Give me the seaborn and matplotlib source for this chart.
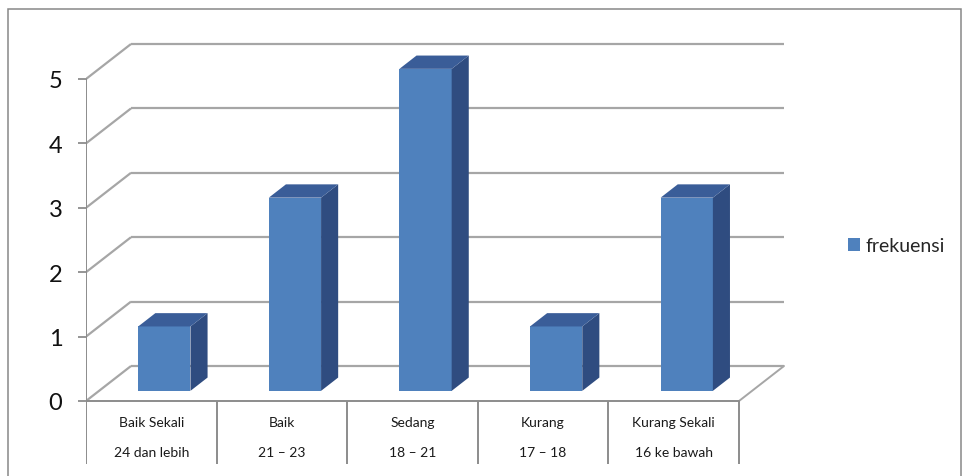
import matplotlib
matplotlib.use("Agg")
import matplotlib.pyplot as plt
from matplotlib.patches import Polygon, Rectangle, Patch
import seaborn as sns
import pandas as pd

# data
categories = ["Baik Sekali", "Baik", "Sedang", "Kurang", "Kurang Sekali"]
ranges = ["24 dan lebih", "21 \u2013 23", "18 \u2013 21", "17 \u2013 18", "16 ke bawah"]
frekuensi = [1, 3, 5, 1, 3]
y_ticks = [0, 1, 2, 3, 4, 5]

FRONT = "#4F81BD"
SIDE = "#2F4C80"
TOP = "#3A5D98"
GRID = "#A6A6A6"
AXIS = "#8C8C8C"

sns.set_theme(style="white")
plt.rcParams["font.family"] = ["Lato", "DejaVu Sans"]

W_PX, H_PX = 963, 477
fig = plt.figure(figsize=(W_PX / 100, H_PX / 100), dpi=100)

# axes placement in pixels (front plane: x0=86, value 0 at y=402)
cat_px, val_px = 130.6, 64.4
left_px, right_px, top_px, bot_px = 86, 820, 30, 470
ax = fig.add_axes([left_px / W_PX, (H_PX - bot_px) / H_PX,
                   (right_px - left_px) / W_PX, (bot_px - top_px) / H_PX])
ax.set_xlim(-0.5, -0.5 + (right_px - left_px) / cat_px)
ax.set_ylim(-(bot_px - 402) / val_px, (402 - top_px) / val_px)

# oblique depth offsets (data units for full depth)
DX = 45 / cat_px
DY = 35 / val_px
n = len(categories)

# walls and floor
for v in y_ticks:
    ax.plot([-0.5, -0.5 + DX], [v, v + DY], color=GRID, lw=1.6, zorder=1,
            solid_capstyle="butt")
    ax.plot([-0.5 + DX, n - 0.5 + DX], [v + DY, v + DY], color=GRID, lw=1.6,
            zorder=1, solid_capstyle="butt")
ax.plot([n - 0.5, n - 0.5 + DX], [0, DY], color=GRID, lw=1.4, zorder=1)
ax.plot([-0.5, n - 0.5], [0, 0], color=AXIS, lw=1.4, zorder=2)
ax.plot([-0.5, -0.5], [0, y_ticks[-1]], color=AXIS, lw=1.4, zorder=2)

# columns
df = pd.DataFrame({"kategori": categories, "frekuensi": frekuensi})
sns.barplot(data=df, x="kategori", y="frekuensi", color=FRONT, saturation=1,
            width=0.4, label="frekuensi", ax=ax, zorder=3)

z0, dz = 0.29, 0.38
for bar in ax.patches:
    bar.set_x(bar.get_x() + z0 * DX)
    bar.set_y(bar.get_y() + z0 * DY)
    bar.set_edgecolor("none")
    x0, y0 = bar.get_x(), bar.get_y()
    x1, y1 = x0 + bar.get_width(), y0 + bar.get_height()
    ox, oy = dz * DX, dz * DY
    ax.add_patch(Polygon([(x1, y0), (x1 + ox, y0 + oy), (x1 + ox, y1 + oy), (x1, y1)],
                         closed=True, facecolor=SIDE, edgecolor="none", zorder=3))
    ax.add_patch(Polygon([(x0, y1), (x1, y1), (x1 + ox, y1 + oy), (x0 + ox, y1 + oy)],
                         closed=True, facecolor=TOP, edgecolor="none", zorder=3))

ax.set_xlim(-0.5, -0.5 + (right_px - left_px) / cat_px)

# category table below the floor
row1 = -21 / val_px
row2 = -51 / val_px
ax.vlines([i - 0.5 for i in range(n + 1)], -63 / val_px, 0, color=AXIS, lw=1.4, zorder=2)
for i in range(n):
    ax.text(i, row1, categories[i], ha="center", va="center", fontsize=10, color="#1a1a1a")
    ax.text(i, row2, ranges[i], ha="center", va="center", fontsize=10, color="#1a1a1a")

# value axis
ax.set_xticks([])
ax.set_yticks(y_ticks)
ax.set_yticklabels([str(t) for t in y_ticks], fontsize=17, color="#111111")
ax.tick_params(axis="y", left=True, length=6, width=1.3, color=AXIS, pad=11)
ax.set_xlabel("")
ax.set_ylabel("")
ax.grid(False)
for s in ax.spines.values():
    s.set_visible(False)
ax.patch.set_alpha(0)

# legend
ax.legend(handles=[Patch(facecolor=FRONT, edgecolor="none", label="frekuensi")],
          loc="center left", bbox_to_anchor=(848 / W_PX, 1 - 247 / H_PX),
          bbox_transform=fig.transFigure, frameon=False, fontsize=14,
          handlelength=0.62, handleheight=0.62, handletextpad=0.3,
          borderpad=0, borderaxespad=0)

# chart border
fig.add_artist(Rectangle((8 / W_PX, -0.05), (961 - 8) / W_PX, 1 - 10 / H_PX + 0.05,
                         transform=fig.transFigure, fill=False,
                         edgecolor="#878787", lw=1.1))

fig.savefig("out.png", dpi=100)
